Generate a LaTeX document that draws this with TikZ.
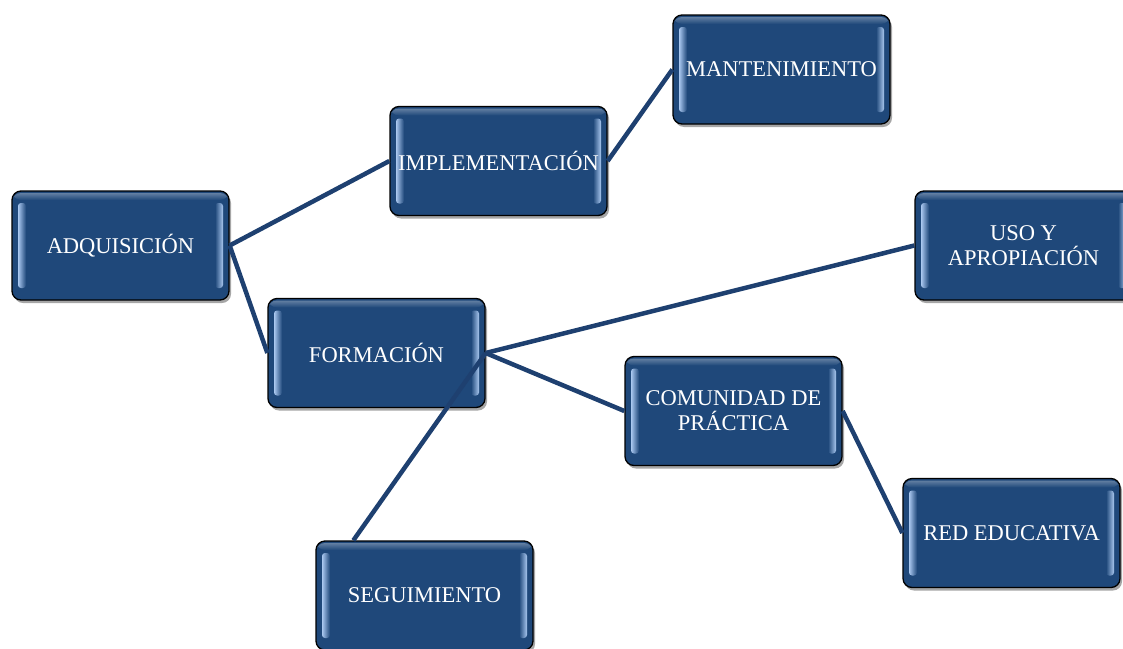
\documentclass[tikz,border=0pt]{standalone}
\usepackage{fontspec}
\setmainfont{Liberation Serif}
\usetikzlibrary{shadows}
\definecolor{boxblue}{RGB}{31,72,122}
\definecolor{lineblue}{RGB}{30,64,112}
\definecolor{barlight}{RGB}{170,200,240}
\tikzset{
  stagebox/.style={
    draw=black, line width=1.3pt, fill=boxblue, rounded corners=9pt,
    minimum width=217pt, minimum height=109pt, inner sep=0pt,
    text=white, align=center,
    font=\fontsize{22.5}{25}\selectfont,
    drop shadow={shadow xshift=2pt, shadow yshift=-3pt, opacity=0.35, fill=black},
    path picture={
      \path (path picture bounding box.south west) coordinate (sw)
            (path picture bounding box.north east) coordinate (ne);
      \shade[left color=barlight, right color=boxblue, rounded corners=3pt]
        ([xshift=6pt,yshift=-12pt]sw |- ne) rectangle ([xshift=14pt,yshift=12pt]sw);
      \shade[left color=boxblue, right color=barlight, rounded corners=3pt]
        ([xshift=-14pt,yshift=-12pt]ne) rectangle ([xshift=-6pt,yshift=12pt]ne |- sw);
      \shade[top color=boxblue!70!white, bottom color=boxblue]
        ([yshift=-2pt]sw |- ne) rectangle ([yshift=-9pt]ne);
    }},
  link/.style={draw=lineblue, line width=4.5pt}
}
\begin{document}
\begin{tikzpicture}[x=1pt,y=-1pt]
\useasboundingbox (0,0) rectangle (1123,648);
\node[stagebox] (adq) at (120.5,245.5) {ADQUISICIÓN};
\node[stagebox] (imp) at (498.5,161) {IMPLEMENTACIÓN};
\node[stagebox] (man) at (781.5,69.5) {MANTENIMIENTO};
\node[stagebox] (uso) at (1023.5,245.5) {USO Y\\APROPIACIÓN};
\node[stagebox] (for) at (376.5,353) {FORMACIÓN};
\node[stagebox] (com) at (733.5,411) {COMUNIDAD DE\\PRÁCTICA};
\node[stagebox] (red) at (1011.5,533) {RED EDUCATIVA};
\node[stagebox] (seg) at (424.5,595.5) {SEGUIMIENTO};
\coordinate (segtop) at ([xshift=38pt]seg.north west);
\draw[link] (adq.east) -- (imp.west);
\draw[link] (adq.east) -- (for.west);
\draw[link] (imp.east) -- (man.west);
\draw[link] (for.east) -- (uso.west);
\draw[link] (for.east) -- (com.west);
\draw[link] (for.east) -- (segtop);
\draw[link] (com.east) -- (red.west);
\end{tikzpicture}
\end{document}
